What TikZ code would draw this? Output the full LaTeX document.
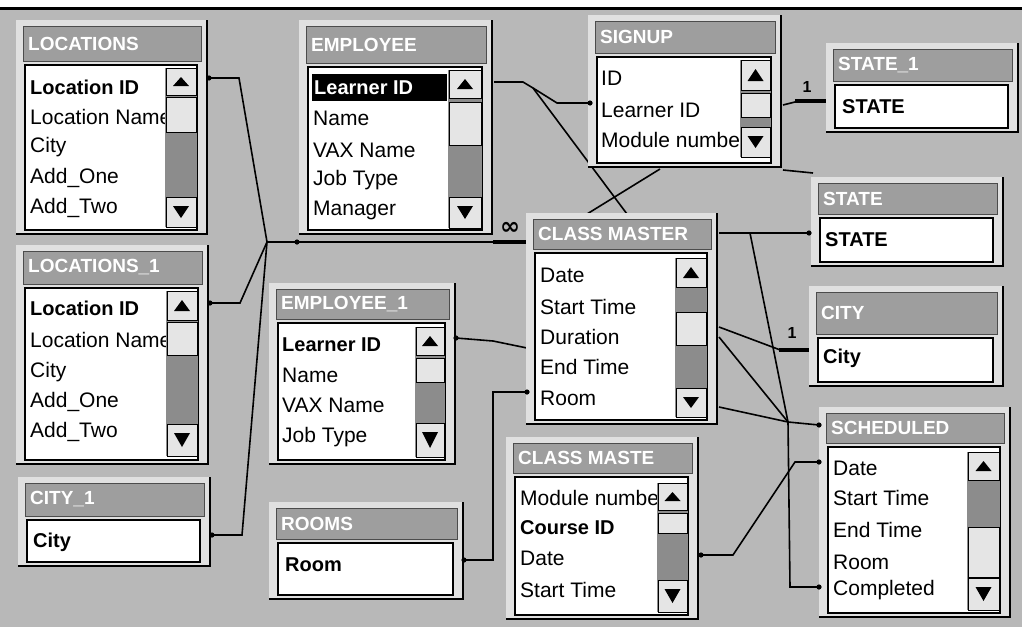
\documentclass[tikz,border=0pt]{standalone}
\usepackage{fontspec}
\setmainfont{Liberation Sans}
\newfontfamily\symfont{DejaVu Sans}
\tikzset{
  winbg/.style={fill=black!12},
  windark/.style={line width=2.4pt, black},
  titlebar/.style={fill=black!38, draw=black!70, line width=1pt},
  titletext/.style={anchor=west, inner sep=0pt, text=white, font=\fontsize{19}{22}\selectfont\bfseries},
  fieldbox/.style={fill=white, draw=black, line width=2pt},
  field/.style={anchor=west, inner sep=0pt, font=\fontsize{21}{24}\selectfont},
  keyfield/.style={anchor=west, inner sep=0pt, font=\fontsize{20}{24}\selectfont\bfseries},
  sbtrack/.style={fill=black!45},
  sbbutton/.style={fill=black!10, draw=black, line width=1pt},
  rel/.style={line width=1.6pt, black},
  onepart/.style={line width=4.5pt, black},
  card/.style={inner sep=0pt, font=\fontsize{16}{18}\selectfont\bfseries},
}
\begin{document}
\begin{tikzpicture}[x=1pt, y=-1pt]
  \useasboundingbox (0,0) rectangle (1022,627);
  %% window background
  \fill[black!28] (0,8) rectangle (1022,627);
  \draw[line width=3pt] (0,8) -- (1022,8);

  %% join lines (under the table windows)
  \coordinate (loc-r) at (209,78);
  \coordinate (locone-r) at (210,303);
  \coordinate (cityone-r) at (212,535);
  \coordinate (jn-loc) at (267,242);
  \coordinate (emp-bl) at (297,242);
  \coordinate (cm-l1) at (527,242);
  \draw[rel] (loc-r) -- ++(30,0) -- (jn-loc);
  \draw[rel] (locone-r) -- ++(30,0) -- (jn-loc);
  \draw[rel] (cityone-r) -- ++(30,0) -- (jn-loc);
  \draw[rel] (jn-loc) -- (cm-l1);
  \draw[onepart] (493,242) -- (cm-l1);
  \node[card] (many) at (510,228) {\symfont\fontsize{24}{24}\selectfont\bfseries ∞};

  \coordinate (emp-r) at (494,82);
  \coordinate (emp-split) at (533,88);
  \coordinate (signup-l) at (590,103);
  \coordinate (cm-t1) at (627,214);
  \coordinate (cm-t2) at (587,214);
  \coordinate (signup-b) at (660,169);
  \draw[rel] (emp-r) -- ++(29,0) -- (emp-split) -- (557,103) -- (signup-l);
  \draw[rel] (emp-split) -- (cm-t1);
  \draw[rel] (cm-t2) -- (signup-b);
  \draw[rel] (783,170) -- (813,173);

  \coordinate (signup-r) at (783,105);
  \coordinate (stateone-l) at (826,101);
  \draw[rel] (signup-r) -- (795,102);
  \draw[onepart] (795,101) -- (stateone-l);
  \node[card] (one-a) at (807,87) {1};

  \coordinate (cm-r1) at (719,233);
  \coordinate (state-l) at (809,233);
  \draw[rel] (cm-r1) -- (state-l);

  \coordinate (cm-r2) at (719,327);
  \coordinate (city-l) at (812,350);
  \draw[rel] (cm-r2) -- (783,351);
  \draw[onepart] (779,350) -- (city-l);
  \node[card] (one-b) at (792,333) {1};

  \coordinate (jn-sched) at (788,422);
  \coordinate (cm-r3) at (719,337);
  \coordinate (cm-r4) at (719,407);
  \coordinate (sched-l1) at (819,425);
  \draw[rel] (750,233) -- (jn-sched);
  \draw[rel] (cm-r3) -- (jn-sched);
  \draw[rel] (cm-r4) -- (jn-sched);
  \draw[rel] (jn-sched) -- (sched-l1);

  \coordinate (cmtwo-r) at (701,555);
  \coordinate (sched-l2) at (819,462);
  \draw[rel] (cmtwo-r) -- ++(32,0) -- (795,462) -- (sched-l2);

  \coordinate (sched-l3) at (819,587);
  \draw[rel] (jn-sched) -- (790,587) -- (sched-l3);

  \coordinate (empone-r) at (456,338);
  \coordinate (cm-l2) at (527,348);
  \draw[rel] (empone-r) -- (493,341) -- (cm-l2);

  \coordinate (rooms-r) at (464,560);
  \coordinate (cm-l3) at (527,392);
  \draw[rel] (rooms-r) -- ++(29,0) |- (cm-l3);

  %% table windows: name/title/field box left/window top/right/field top/bottom
  \foreach \nm/\ttl/\fl/\ot/\fr/\ft/\fb in {
      loc/LOCATIONS/25/20/197/65/230,
      locone/LOCATIONS\_1/25/245/198/288/460,
      cityone/CITY\_1/27/477/200/520/562,
      emp/EMPLOYEE/308/20/482/67/230,
      signup/SIGNUP/597/15/771/57/163,
      stateone/STATE\_1/835/43/1008/85/128,
      state/STATE/820/177/993/218/262,
      city/CITY/818/286/993/338/382,
      sched/SCHEDULED/828/407/1000/447/613,
      cm/CLASS MASTER/535/213/707/253/420,
      cmtwo/CLASS MASTE/515/437/688/477/615,
      empone/EMPLOYEE\_1/278/283/445/323/460,
      rooms/ROOMS/278/502/453/543/595}
  {
    \fill[winbg] (\fl-9,\ot) rectangle (\fr+10,\fb+4);
    \draw[windark] (\fr+10,\ot) -- (\fr+10,\fb+4) -- (\fl-9,\fb+4);
    \draw[titlebar] (\fl-2,\ot+6) rectangle (\fr+4,\ft-4);
    \node[titletext] (\nm-title) at (\fl+3,{(\ot+\ft+2)/2}) {\ttl};
    \draw[fieldbox] (\fl,\ft) rectangle (\fr,\fb);
  }

  %% field lists
  \node[keyfield] (loc-f1) at (30,87) {Location ID};
  \foreach \i/\y/\txt in {2/117/Location Name, 3/147/City, 4/178/Add\_One, 5/208/Add\_Two}
    \node[field] (loc-f\i) at (30,\y) {\txt};
  \node[keyfield] (locone-f1) at (30,308) {Location ID};
  \foreach \i/\y/\txt in {2/340/Location Name, 3/372/City, 4/402/Add\_One, 5/432/Add\_Two}
    \node[field] (locone-f\i) at (30,\y) {\txt};
  \node[keyfield] (cityone-f1) at (33,542) {City};

  \fill[black] (312,74) rectangle (447,101);
  \node[keyfield, text=white] (emp-f1) at (314,88) {Learner ID};
  \foreach \i/\y/\txt in {2/118/Name, 3/150/VAX Name, 4/180/Job Type, 5/210/Manager}
    \node[field] (emp-f\i) at (313,\y) {\txt};
  \foreach \i/\y/\txt in {1/78/ID, 2/110/Learner ID, 3/140/Module number}
    \node[field] (signup-f\i) at (601,\y) {\txt};
  \node[keyfield] (stateone-f1) at (842,107) {STATE};
  \node[keyfield] (state-f1) at (825,240) {STATE};
  \node[keyfield] (city-f1) at (823,358) {City};
  \foreach \i/\y/\txt in {1/468/Date, 2/498/Start Time, 3/530/End Time, 4/562/Room, 5/590/Completed}
    \node[field] (sched-f\i) at (833,\y) {\txt};
  \foreach \i/\y/\txt in {1/275/Date, 2/307/Start Time, 3/337/Duration, 4/367/End Time, 5/398/Room}
    \node[field] (cm-f\i) at (540,\y) {\txt};
  \node[field] (cmtwo-f1) at (520,498) {Module number};
  \node[keyfield] (cmtwo-f2) at (520,528) {Course ID};
  \node[field] (cmtwo-f3) at (520,558) {Date};
  \node[field] (cmtwo-f4) at (520,590) {Start Time};
  \node[keyfield] (empone-f1) at (282,345) {Learner ID};
  \foreach \i/\y/\txt in {2/375/Name, 3/405/VAX Name, 4/437/Job Type}
    \node[field] (empone-f\i) at (282,\y) {\txt};
  \node[keyfield] (rooms-f1) at (285,565) {Room};

  %% scroll bars: left/right/up button/thumb/down button
  \foreach \xa/\xb/\ua/\ub/\ta/\tb/\da/\db in {
      165/197/68/95/97/132/197/227,
      166/198/291/320/322/355/424/456,
      448/482/70/98/102/145/197/228,
      740/771/60/90/93/117/127/157,
      675/707/258/287/312/345/388/417,
      657/688/483/510/513/533/580/612,
      415/445/327/355/358/382/423/457,
      967/1000/452/480/527/577/578/610}
  {
    \fill[sbtrack] (\xa,\ua) rectangle (\xb,\db);
    \draw[sbbutton] (\xa+1,\ua) rectangle (\xb-1,\ub);
    \draw[sbbutton] (\xa+1,\ta) rectangle (\xb-1,\tb);
    \draw[sbbutton] (\xa+1,\da) rectangle (\xb-1,\db);
    \fill ({(\xa+\xb)/2-8},{\ub-9}) -- ({(\xa+\xb)/2+8},{\ub-9}) -- ({(\xa+\xb)/2},{\ua+9}) -- cycle;
    \fill ({(\xa+\xb)/2-8},{\da+9}) -- ({(\xa+\xb)/2+8},{\da+9}) -- ({(\xa+\xb)/2},{\db-9}) -- cycle;
  }

  %% end dots of the join lines
  \foreach \c in {loc-r, locone-r, cityone-r, emp-bl, signup-l, state-l, sched-l1, sched-l2, sched-l3, cmtwo-r, empone-r, rooms-r, cm-l3}
    \fill (\c) circle (2.6);
\end{tikzpicture}
\end{document}
